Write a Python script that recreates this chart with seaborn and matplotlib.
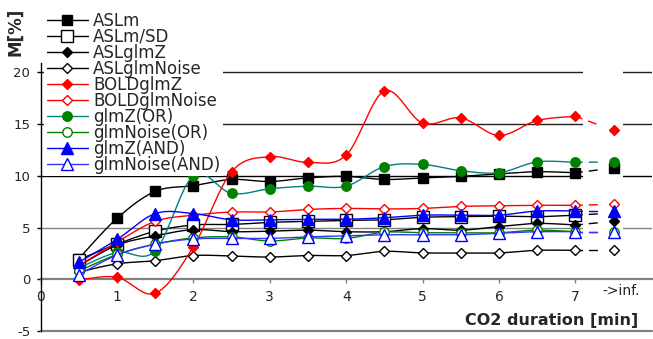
import numpy as np
import matplotlib
matplotlib.use("Agg")
import matplotlib.pyplot as plt
from matplotlib.lines import Line2D
import seaborn as sns

sns.set_style("white")
plt.rcParams['font.family'] = ['DejaVu Sans']
plt.rcParams['lines.scale_dashes'] = False

# ---- data ----
durations = [0.5, 1, 1.5, 2, 2.5, 3, 3.5, 4, 4.5, 5, 5.5, 6, 6.5, 7]
x_inf = 7.5
x_ticks = [0, 1, 2, 3, 4, 5, 6, 7]
y_ticks = [-5, 0, 5, 10, 15, 20]

ASLm          = [2.0, 5.9, 8.5, 9.05, 9.65, 9.45, 9.8, 9.95, 9.65, 9.8, 9.95, 10.2, 10.4, 10.3]
ASLm_inf = 10.75
ASLm_SD       = [1.9, 3.4, 4.65, 5.25, 5.3, 5.5, 5.6, 5.7, 5.75, 6.0, 6.05, 6.1, 6.05, 6.2]
ASLm_SD_inf = 6.4
ASLglmZ       = [1.3, 3.3, 4.2, 4.8, 4.6, 4.65, 4.75, 4.6, 4.6, 4.9, 4.75, 5.1, 5.4, 5.25]
ASLglmZ_inf = 5.6
ASLglmNoise   = [0.7, 1.5, 1.8, 2.3, 2.25, 2.15, 2.3, 2.3, 2.7, 2.55, 2.55, 2.55, 2.8, 2.8]
ASLglmNoise_inf = 2.8
BOLDglmZ      = [-0.05, 0.2, -1.35, 3.15, 10.4, 11.85, 11.3, 12.0, 18.2, 15.1, 15.6, 13.9, 15.35, 15.75]
BOLDglmZ_inf = 14.4
BOLDglmNoise  = [1.3, 3.6, 5.6, 6.2, 6.5, 6.5, 6.75, 6.85, 6.8, 6.85, 7.05, 7.1, 7.15, 7.15]
BOLDglmNoise_inf = 7.25
glmZ_OR       = [1.1, 2.6, 2.75, 10.0, 8.3, 8.75, 9.0, 9.0, 10.9, 11.1, 10.5, 10.3, 11.35, 11.3]
glmZ_OR_inf = 11.35
glmNoise_OR   = [0.8, 2.4, 3.4, 4.0, 4.1, 3.7, 4.0, 3.95, 4.55, 4.5, 4.5, 4.5, 4.75, 4.6]
glmNoise_OR_inf = 4.6
glmZ_AND      = [1.65, 3.85, 6.35, 6.35, 5.75, 5.75, 5.8, 5.8, 5.95, 6.2, 6.2, 6.2, 6.6, 6.6]
glmZ_AND_inf = 6.6
glmNoise_AND  = [0.45, 2.35, 3.4, 3.9, 3.95, 3.95, 4.1, 4.2, 4.3, 4.3, 4.3, 4.45, 4.6, 4.6]
glmNoise_AND_inf = 4.6

labels = ['ASLm', 'ASLm/SD', 'ASLglmZ', 'ASLglmNoise', 'BOLDglmZ', 'BOLDglmNoise',
          'glmZ(OR)', 'glmNoise(OR)', 'glmZ(AND)', 'glmNoise(AND)']
series = [ASLm, ASLm_SD, ASLglmZ, ASLglmNoise, BOLDglmZ, BOLDglmNoise,
          glmZ_OR, glmNoise_OR, glmZ_AND, glmNoise_AND]
series_inf = [ASLm_inf, ASLm_SD_inf, ASLglmZ_inf, ASLglmNoise_inf, BOLDglmZ_inf,
              BOLDglmNoise_inf, glmZ_OR_inf, glmNoise_OR_inf, glmZ_AND_inf, glmNoise_AND_inf]
show_inf_marker = [True, False, True, True, True, True, True, True, True, True]

# style: line color, marker, face, edge, size
styles = [
    ('black', 's', 'black', 'black', 6.5),
    ('black', 's', 'white', 'black', 9.0),
    ('black', 'D', 'black', 'black', 5.2),
    ('black', 'D', 'white', 'black', 5.2),
    ('#FF0000', 'D', '#FF0000', '#FF0000', 5.4),
    ('#FF0000', 'D', 'white', '#FF0000', 5.4),
    ('#008080', 'o', '#008000', '#008000', 6.8),
    ('#008000', 'o', 'white', '#008000', 6.8),
    ('#0000FF', '^', '#0000FF', '#0000FF', 8.0),
    ('#3333FF', '^', 'white', '#0000FF', 8.0),
]


def smooth(x, y, n=24):
    pts = np.column_stack([x, y]).astype(float)
    out = []
    for i in range(len(pts) - 1):
        p0 = pts[i - 1] if i > 0 else pts[i]
        p1 = pts[i]
        p2 = pts[i + 1]
        p3 = pts[i + 2] if i + 2 < len(pts) else pts[i + 1]
        c1 = p1 + (p2 - p0) / 6.0
        c2 = p2 - (p3 - p1) / 6.0
        t = np.linspace(0, 1, n)[:, None]
        seg = (1 - t) ** 3 * p1 + 3 * (1 - t) ** 2 * t * c1 + 3 * (1 - t) * t ** 2 * c2 + t ** 3 * p2
        out.append(seg if i == 0 else seg[1:])
    return np.vstack(out)


fig = plt.figure(figsize=(6.53, 3.39), dpi=100)
ax = fig.add_axes([0.0623, 0.0235, 0.9357, 0.7905])
ax.set_xlim(0, 8.0)
ax.set_ylim(-5, 20.9)

# grid lines
grid_colors = {5: '#808080', 10: '#000000', 15: '#202020', 20: '#202020'}
for g, c in grid_colors.items():
    ax.axhline(g, color=c, lw=1.0, zorder=1)
ax.axhline(-5, color='#808080', lw=1.6, zorder=1, clip_on=False)
# break band between 7 and infinity
ax.axvspan(7.1, 7.62, ymin=(0.2 + 5) / 25.9, ymax=1, color='white', lw=0, zorder=1.5)

for k, (lab, ys, yinf) in enumerate(zip(labels, series, series_inf)):
    lc, mk, fc, ec, ms = styles[k]
    z = 3 + k
    sm = smooth(durations, ys)
    sns.lineplot(x=sm[:, 0], y=sm[:, 1], ax=ax, color=lc, lw=1.0, sort=False,
                 estimator=None, zorder=z, legend=False)
    ax.plot([durations[-1], x_inf], [ys[-1], yinf], color=lc, lw=1.0, zorder=z,
            linestyle=(0, (5.4, 4.3, 6.5, 30)))
    mx = list(durations) + ([x_inf] if show_inf_marker[k] else [])
    my = list(ys) + ([yinf] if show_inf_marker[k] else [])
    ax.plot(mx, my, linestyle='none', marker=mk, markersize=ms, markerfacecolor=fc,
            markeredgecolor=ec, markeredgewidth=1.0, zorder=z + 0.5, clip_on=False)

# axes styling
for s in ['top', 'right']:
    ax.spines[s].set_visible(False)
ax.spines['left'].set_color('black')
ax.spines['left'].set_linewidth(1.0)
ax.spines['bottom'].set_position(('data', 0))
ax.spines['bottom'].set_color('#808080')
ax.spines['bottom'].set_linewidth(1.6)
ax.spines['bottom'].set_zorder(2)

ax.set_xticks(x_ticks)
ax.set_xticklabels([str(t) for t in x_ticks])
ax.set_yticks(y_ticks)
ax.set_yticklabels([str(t) for t in y_ticks])
ax.tick_params(axis='x', direction='out', length=3, width=1, color='#808080',
               labelsize=10, pad=5, bottom=True)
ax.tick_params(axis='y', direction='out', length=3, width=1, color='black',
               labelsize=9.5, pad=4.5, left=True)
ax.text(7.6, -1.15, '->inf.', ha='center', va='center', fontsize=10)

fig.text(0.977, 0.056, 'CO2 duration [min]', ha='right', va='center',
         fontsize=11.5, fontweight='bold')
fig.text(0.023, 0.905, 'M[%]', ha='center', va='center', rotation=90,
         fontsize=12, fontweight='bold')

handles = []
for k, lab in enumerate(labels):
    lc, mk, fc, ec, ms = styles[k]
    handles.append(Line2D([], [], color=lc, lw=1.0, marker=mk, markersize=ms,
                          markerfacecolor=fc, markeredgecolor=ec, markeredgewidth=1.0))
leg = ax.legend(handles, labels, loc='upper left', bbox_to_anchor=(44 / 653, 1 - 9 / 339),
                bbox_transform=fig.transFigure, fontsize=12, labelspacing=-0.12,
                handlelength=2.5, handletextpad=0.3, borderpad=0.15, borderaxespad=0,
                frameon=True, fancybox=False, framealpha=1, facecolor='white',
                edgecolor='none')
leg.set_zorder(20)

fig.savefig('out.png', dpi=100)
